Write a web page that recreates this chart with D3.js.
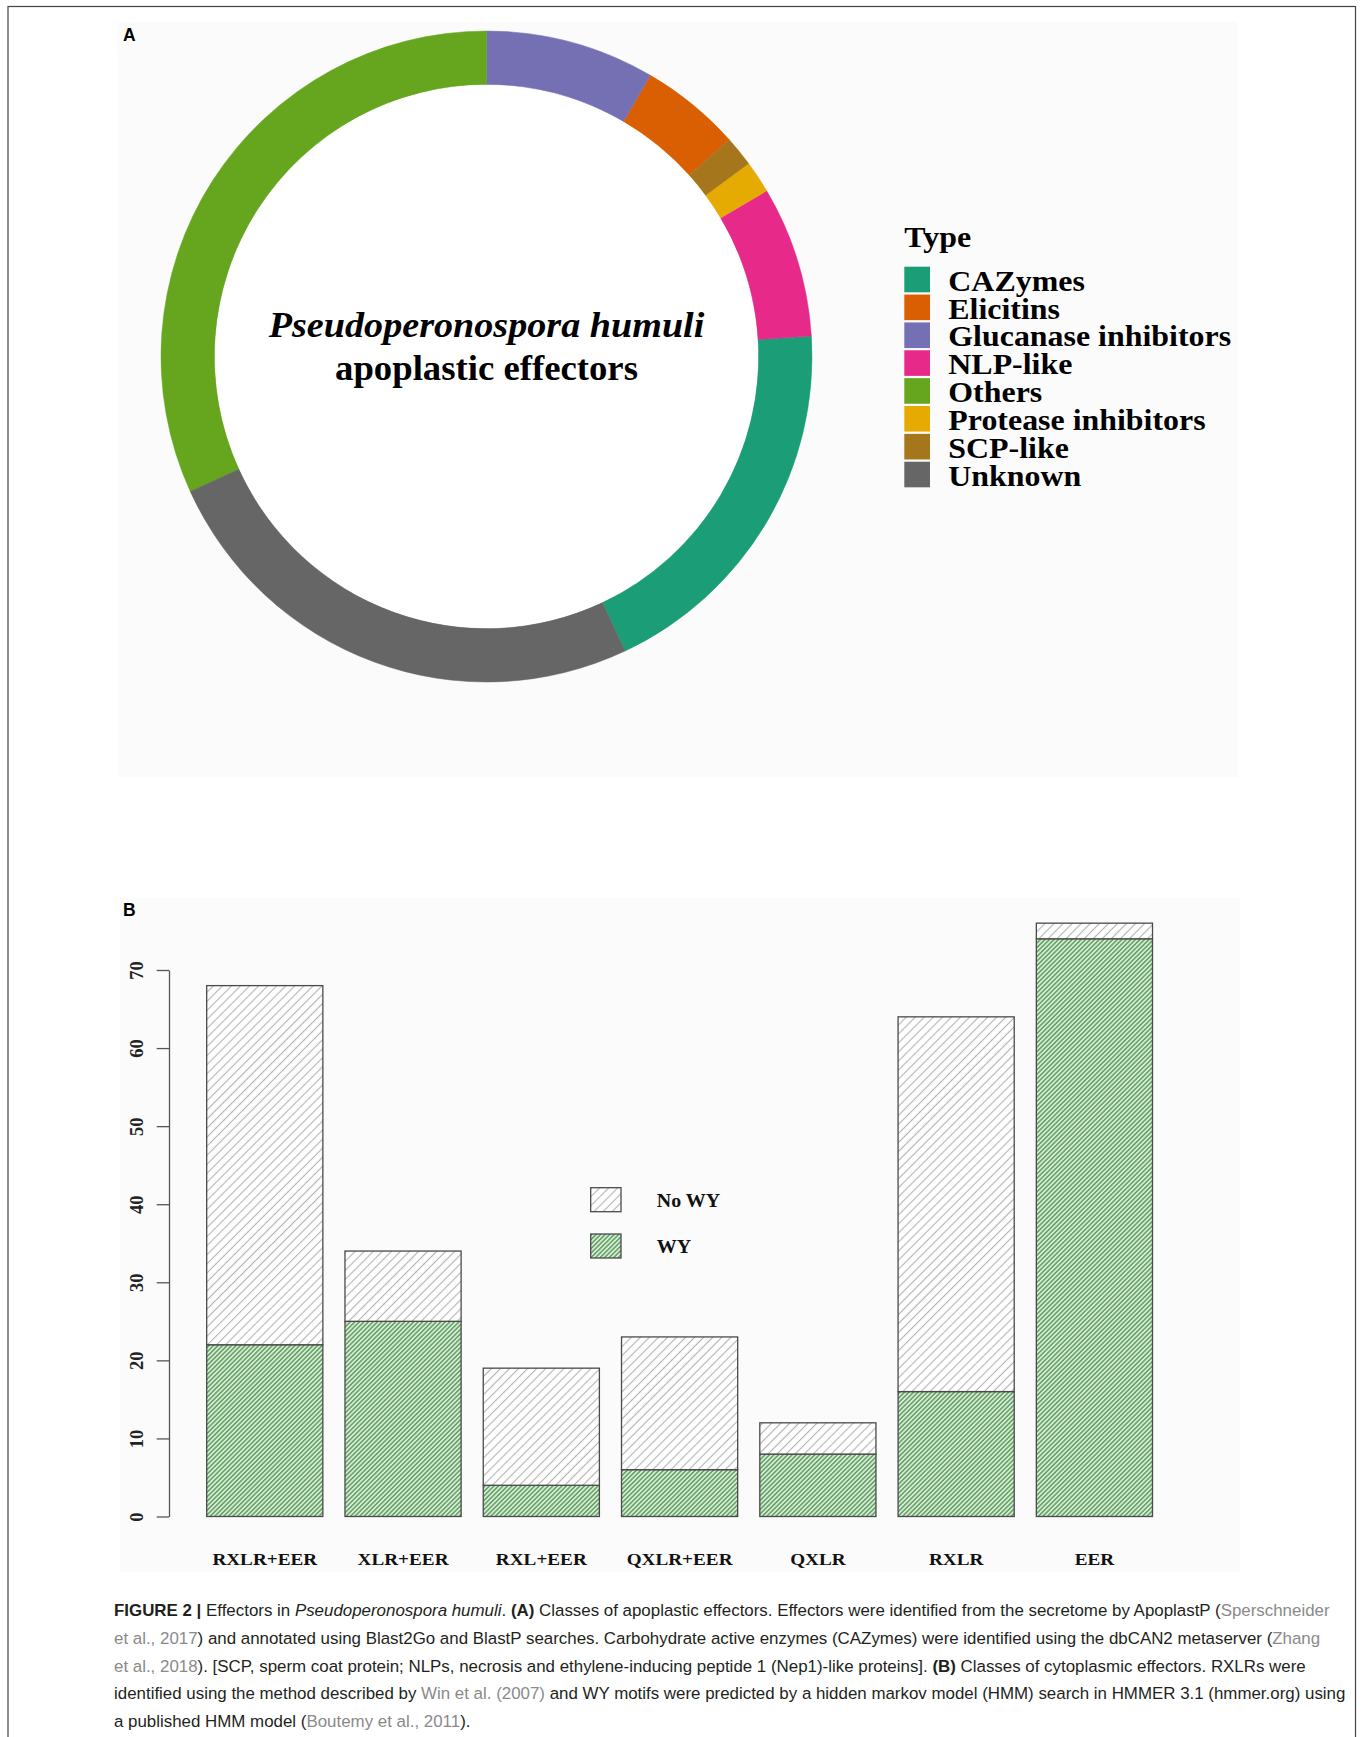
<!DOCTYPE html>
<html><head><meta charset="utf-8">
<script src="https://cdn.jsdelivr.net/npm/d3@7"></script>
<style>body{margin:0;background:#fff}svg{display:block}</style>
</head><body>
<svg id="c" width="1362" height="1737"></svg>
<script>
// ---------- Panel A data (share of apoplastic effectors, %) ----------
const types = ["CAZymes","Elicitins","Glucanase inhibitors","NLP-like","Others","Protease inhibitors","SCP-like","Unknown"];
const shares = [19.0, 5.0, 8.4, 7.5, 31.8, 1.6, 1.5, 25.2];
const typeColors = ["#1B9E77","#D95F02","#7570B3","#E7298A","#66A61E","#E6AB02","#A6761D","#666666"];
const ringOrder = ["Glucanase inhibitors","Elicitins","SCP-like","Protease inhibitors","NLP-like","CAZymes","Unknown","Others"];
const centerTitle = ["Pseudoperonospora humuli","apoplastic effectors"];
const legendTitle = "Type";

// ---------- Panel B data (cytoplasmic effectors) ----------
const effectorClasses = ["RXLR+EER","XLR+EER","RXL+EER","QXLR+EER","QXLR","RXLR","EER"];
const wyCounts   = [22, 25, 4, 6, 8, 16, 74];
const noWyCounts = [46, 9, 15, 17, 4, 48, 2];
const yTicks = [0,10,20,30,40,50,60,70];
const barKeys = ["WY","NoWY"];
const barLegendLabels = ["No WY","WY"];

// ---------- Caption ----------
const captionLines = [
  [["FIGURE 2 |","b"],[" Effectors in ","n"],["Pseudoperonospora humuli","i"],[". ","n"],["(A)","b"],[" Classes of apoplastic effectors. Effectors were identified from the secretome by ApoplastP (","n"],["Sperschneider","g"]],
  [["et al., 2017","g"],[") and annotated using Blast2Go and BlastP searches. Carbohydrate active enzymes (CAZymes) were identified using the dbCAN2 metaserver (","n"],["Zhang","g"]],
  [["et al., 2018","g"],["). [SCP, sperm coat protein; NLPs, necrosis and ethylene-inducing peptide 1 (Nep1)-like proteins]. ","n"],["(B)","b"],[" Classes of cytoplasmic effectors. RXLRs were","n"]],
  [["identified using the method described by ","n"],["Win et al. (2007)","g"],[" and WY motifs were predicted by a hidden markov model (HMM) search in HMMER 3.1 (hmmer.org) using","n"]],
  [["a published HMM model (","n"],["Boutemy et al., 2011","g"],[").","n"]]
];

const svg = d3.select("#c");
const serif = "'Liberation Serif','Times New Roman',serif";
const sans = "'Liberation Sans',Arial,Helvetica,sans-serif";

// panel backgrounds
svg.append("rect").attr("x",118).attr("y",22).attr("width",1120).attr("height",755).attr("fill","#fbfbfb");
svg.append("rect").attr("x",120).attr("y",898).attr("width",1120).attr("height",674).attr("fill","#fbfbfb");

// frame
svg.append("rect").attr("x",8).attr("y",6.5).attr("width",1347.5).attr("height",1760)
  .attr("fill","none").attr("stroke","#444").attr("stroke-width",1.2);

// panel letters
svg.append("text").attr("x",123).attr("y",40.5).text("A")
  .attr("font-family",sans).attr("font-weight","bold").attr("font-size",17.5);
svg.append("text").attr("x",123).attr("y",915.5).text("B")
  .attr("font-family",sans).attr("font-weight","bold").attr("font-size",17.5);

// ---------- Donut ----------
const cx = 486.5, cy = 356.5;
const pieData = types.map((t,i)=>({type:t, value:shares[i], color:typeColors[i]}));
const pie = d3.pie().value(d=>d.value)
  .sort((a,b)=>ringOrder.indexOf(a.type)-ringOrder.indexOf(b.type));
const arc = d3.arc().innerRadius(272).outerRadius(325.5);
const gA = svg.append("g").attr("transform",`translate(${cx},${cy})`);
gA.selectAll("path").data(pie(pieData)).join("path")
  .attr("d",arc).attr("fill",d=>d.data.color).attr("stroke",d=>d.data.color).attr("stroke-width",0.5);
gA.append("circle").attr("r",271.5).attr("fill","#fff");

gA.append("text").attr("transform","translate(0,-19.5) scale(1.06,1)").attr("text-anchor","middle")
  .attr("font-family",serif).attr("font-weight","bold").attr("font-style","italic")
  .attr("font-size",36).text(centerTitle[0]);
gA.append("text").attr("transform","translate(0,23.5) scale(1.02,1)").attr("text-anchor","middle")
  .attr("font-family",serif).attr("font-weight","bold")
  .attr("font-size",36).text(centerTitle[1]);

// legend A
const lgA = svg.append("g");
lgA.append("text").attr("transform","translate(904.3,246.7) scale(1.12,1)")
  .attr("font-family",serif).attr("font-weight","bold").attr("font-size",28.5).text(legendTitle);
const rowY = i => 266.7 + i*27.86;
lgA.selectAll("rect.sw").data(pieData).join("rect").attr("class","sw")
  .attr("x",904.3).attr("y",(d,i)=>rowY(i)).attr("width",25.7).attr("height",25.6)
  .attr("fill",d=>d.color);
lgA.selectAll("text.lb").data(pieData).join("text").attr("class","lb")
  .attr("transform",(d,i)=>`translate(948.3,${rowY(i)+24}) scale(1.12,1)`)
  .attr("font-family",serif).attr("font-weight","bold").attr("font-size",28.5)
  .text(d=>d.type);

// ---------- Bar chart ----------
const defs = svg.append("defs");
const pNo = defs.append("pattern").attr("id","hNo").attr("patternUnits","userSpaceOnUse")
  .attr("width",6.4).attr("height",6.4).attr("patternTransform","rotate(45)");
pNo.append("rect").attr("width",6.4).attr("height",6.4).attr("fill","#ffffff");
pNo.append("line").attr("x1",3.2).attr("x2",3.2).attr("y1",0).attr("y2",6.4)
  .attr("stroke","#b3b3b3").attr("stroke-width",1.1);
const pWy = defs.append("pattern").attr("id","hWy").attr("patternUnits","userSpaceOnUse")
  .attr("width",3.2).attr("height",3.2).attr("patternTransform","rotate(45)");
pWy.append("rect").attr("width",3.2).attr("height",3.2).attr("fill","#d9ebd9");
pWy.append("line").attr("x1",1.6).attr("x2",1.6).attr("y1",0).attr("y2",3.2)
  .attr("stroke","#5f9f5f").attr("stroke-width",1.5);
const fills = {WY:"url(#hWy)", NoWY:"url(#hNo)"};

const x = d3.scaleBand().domain(effectorClasses).range([206.7,1152.5]).paddingInner(0.16);
const y = d3.scaleLinear().domain([0,70]).range([1516.5,970]);

const rows = effectorClasses.map((c,i)=>({cls:c, WY:wyCounts[i], NoWY:noWyCounts[i]}));
const series = d3.stack().keys(barKeys)(rows);
const gB = svg.append("g");
gB.selectAll("g.s").data(series).join("g").attr("class","s")
  .selectAll("rect").data(s=>s.map(d=>({key:s.key, d}))).join("rect")
  .attr("x",o=>x(o.d.data.cls)).attr("width",x.bandwidth())
  .attr("y",o=>y(o.d[1])).attr("height",o=>y(o.d[0])-y(o.d[1]))
  .attr("fill",o=>fills[o.key]).attr("stroke","#4a4a4a").attr("stroke-width",1.3);

// y axis
const ax = svg.append("g").attr("transform","translate(169,0)")
  .call(d3.axisLeft(y).tickValues(yTicks).tickSize(12.3).tickSizeOuter(0).tickFormat(d3.format("d")));
ax.select(".domain").attr("stroke","#555").attr("stroke-width",1.3);
ax.selectAll(".tick line").attr("stroke","#555").attr("stroke-width",1.3);
ax.selectAll(".tick text").attr("transform","rotate(-90)").attr("x",0).attr("y",-26.5).attr("dy",0)
  .attr("text-anchor","middle").attr("fill","#222")
  .attr("font-family",serif).attr("font-weight","bold").attr("font-size",18.5);

// x labels
gB.selectAll("text.xl").data(effectorClasses).join("text").attr("class","xl")
  .attr("transform",d=>`translate(${x(d)+x.bandwidth()/2},1565) scale(1.13,1)`)
  .attr("text-anchor","middle").attr("font-family",serif).attr("font-weight","bold")
  .attr("font-size",17).attr("fill","#111").text(d=>d);

// legend B
const lgB = svg.append("g");
const lgKeys = ["NoWY","WY"];
lgB.selectAll("rect").data(lgKeys).join("rect")
  .attr("x",590.7).attr("y",(d,i)=>1187.7+i*46.3).attr("width",30.3).attr("height",24)
  .attr("fill",d=>fills[d]).attr("stroke","#4a4a4a").attr("stroke-width",1.3);
lgB.selectAll("text").data(barLegendLabels).join("text")
  .attr("transform",(d,i)=>`translate(656.7,${1206.7+i*46.3}) scale(1.08,1)`)
  .attr("font-family",serif).attr("font-weight","bold").attr("font-size",18.5).attr("fill","#111")
  .text(d=>d);

// ---------- Caption ----------
const cap = svg.append("g");
captionLines.forEach((line,li)=>{
  const t = cap.append("text").attr("x",114).attr("y",1616+li*27.8)
    .attr("font-family",sans).attr("font-size",16.9).attr("fill","#231f20");
  line.forEach(([s,st])=>{
    const ts = t.append("tspan").text(s);
    if(st==="b") ts.attr("font-weight","bold");
    if(st==="i") ts.attr("font-style","italic");
    if(st==="g") ts.attr("fill","#8a8a8a");
  });
});
</script>
</body></html>
